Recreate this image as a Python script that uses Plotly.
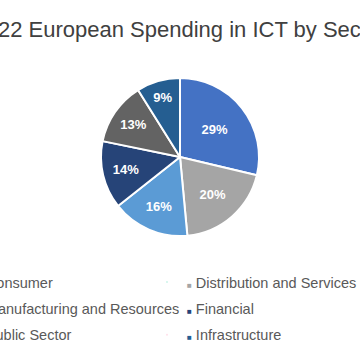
import plotly.graph_objects as go

title_text = "2022 European Spending in ICT by Sector"
categories = ["Consumer", "Distribution and Services", "Manufacturing and Resources",
              "Financial", "Public Sector", "Infrastructure"]
shares = [29, 20, 16, 14, 13, 9]
colors = ["#4472C4", "#A5A5A5", "#5B9BD5", "#264478", "#636363", "#255E91"]

W = H = 360
FONT = "Liberation Sans, Arial, sans-serif"

fig = go.Figure()
fig.add_trace(go.Pie(
    labels=categories, values=shares, sort=False, direction="clockwise", rotation=0,
    marker=dict(colors=colors, line=dict(color="white", width=2)),
    texttemplate="%{value}%", textposition="inside", insidetextorientation="horizontal",
    textfont=dict(family=FONT, size=13, color="white", weight="bold"),
    showlegend=False, hoverinfo="label+value",
    domain=dict(x=[101 / W, 259 / W], y=[124 / H, 282 / H]),
))

# legend entries (two columns, filled row by row)
for i, (name, col) in enumerate(zip(categories, colors)):
    fig.add_trace(go.Scatter(
        x=[None], y=[None], mode="markers", marker=dict(opacity=0, size=1),
        name='<span style="color:%s;font-size:8px">■</span> %s' % (col, name),
        legend="legend" if i % 2 == 0 else "legend2", legendgroup="g%d" % i,
        hoverinfo="skip",
    ))

legend_common = dict(
    font=dict(family=FONT, size=14.5, color="#595959"),
    orientation="v", yanchor="top", xanchor="left",
    bgcolor="rgba(0,0,0,0)", borderwidth=0, tracegroupgap=4.5, itemclick=False,
)
fig.update_layout(
    width=W, height=H,
    margin=dict(l=0, r=0, t=0, b=0, autoexpand=False),
    paper_bgcolor="white", plot_bgcolor="white",
    xaxis=dict(visible=False), yaxis=dict(visible=False),
    title=dict(text=title_text, x=0.5, xanchor="center", xref="paper",
               y=1 - 29 / H, yref="container", yanchor="middle",
               font=dict(family=FONT, size=22, color="#404040")),
    legend=dict(x=-63 / W, y=1 - 266 / H, **legend_common),
    legend2=dict(x=147 / W, y=1 - 266 / H, **legend_common),
)

fig.write_html("out.html", config={"displayModeBar": False},
               post_script="document.body.style.margin='0';document.body.style.overflow='hidden';")
